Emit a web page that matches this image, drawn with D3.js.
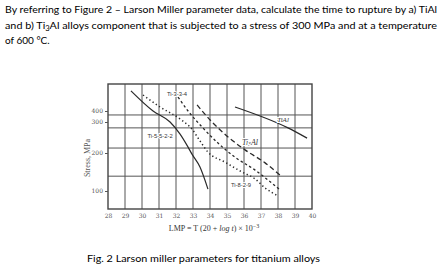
<!DOCTYPE html>
<html><head><meta charset="utf-8">
<script src="https://cdn.jsdelivr.net/npm/d3@7"></script>
<style>
html,body{margin:0;padding:0;background:#fff;}
svg{display:block;}
</style></head>
<body>
<svg id="c" width="445" height="274"></svg>
<script>
// ---------- data ----------
const lmpTicks = [28,29,30,31,32,33,34,35,36,37,38,39,40];
const lmpGrid = [29,30,31,32,33,34,35,36,37,38,39];
const stressTicks = [100,200,300,400];
const stressGrid = [364,281,216,139];
// non-uniform stress axis as printed in the figure
const stressAxisDomain = [55,100,200,300,400,650];

const ti5522Lmp    = [29.35,30.65,31.65,32.24,32.71,32.94,33.41,33.88];
const ti5522Stress = [580,400,300,261,219,197,163,105];

const ti829Lmp     = [30.06,31.06,32.24,32.94,33.41,33.88,34.88,35.88,36.65,37.24,38.0];
const ti829Stress  = [543,436,327,277,239,203,176,150,132,108,87];

const ti334Lmp     = [32.12,32.71,33.53,34.47,35.47,36.65,37.41,38.12];
const ti334Stress  = [525,400,284,232,189,155,129,103];

const ti3alLmp     = [33.24,34.12,35.06,36.06,37.24,38.24];
const ti3alStress  = [454,300,252,210,174,137];

const tialLmp      = [35.47,38.59,39.71];
const tialStress   = [436,281,248];

const headerLines = [
  "By referring to Figure 2 \u2013 Larson Miller parameter data, calculate the time to rupture by a) TiAl",
  "Al alloys component that is subjected to a stress of 300 MPa and at a temperature",
  "of 600 \u00B0C."
];
const captionText = "Fig. 2 Larson miller parameters for titanium alloys";

// ---------- drawing ----------
const svg = d3.select("#c");
const ink = "#2a2a2a";

const x = d3.scaleLinear().domain([28,40]).range([108,312]);
const y = d3.scaleLinear().domain(stressAxisDomain).range([208,191,153,122,111,83]);

// header text
const hfont = "Lato, 'Open Sans', sans-serif";
svg.append("text").attr("x",5).attr("y",12.5).attr("font-family",hfont).attr("font-size",10)
  .attr("fill","#000").attr("textLength",432).attr("lengthAdjust","spacingAndGlyphs").text(headerLines[0]);
const l2 = svg.append("text").attr("x",5).attr("y",28.5).attr("font-family",hfont).attr("font-size",10)
  .attr("fill","#000").attr("textLength",432).attr("lengthAdjust","spacingAndGlyphs");
l2.append("tspan").text("and b) Ti");
l2.append("tspan").attr("font-size",7).attr("dy",2).text("3");
l2.append("tspan").attr("dy",-2).text(headerLines[1]);
svg.append("text").attr("x",5).attr("y",44).attr("font-family",hfont).attr("font-size",10)
  .attr("fill","#000").text(headerLines[2]);

// caption
svg.append("text").attr("x",87).attr("y",262).attr("font-family",hfont).attr("font-size",10)
  .attr("fill","#000").attr("textLength",233).attr("lengthAdjust","spacingAndGlyphs").text(captionText);

const g = svg.append("g");
const [x0,x1] = x.range();
const yTop = 84, yBot = 209;

// grid
g.selectAll(".vg").data(lmpGrid).join("line")
  .attr("x1",d=>x(d)).attr("x2",d=>x(d)).attr("y1",yTop).attr("y2",yBot)
  .attr("stroke","#555").attr("stroke-width",1);
g.selectAll(".hg").data(stressGrid).join("line")
  .attr("x1",x0).attr("x2",x1).attr("y1",d=>y(d)).attr("y2",d=>y(d))
  .attr("stroke","#555").attr("stroke-width",1);

// frame
g.append("rect").attr("x",x0).attr("y",yTop).attr("width",x1-x0).attr("height",yBot-yTop)
  .attr("fill","none").attr("stroke","#444").attr("stroke-width",1.4);

// axes
const xAxis = d3.axisBottom(x).tickValues(lmpTicks).tickSize(0).tickPadding(5).tickFormat(d3.format("d"));
const ax = g.append("g").attr("transform",`translate(0,${yBot})`).call(xAxis);
ax.select(".domain").remove();
ax.selectAll("text").attr("font-family","'DejaVu Serif', serif").attr("font-size",6).attr("fill","#555");

const yAxis = d3.axisLeft(y).tickValues(stressTicks).tickSize(3).tickPadding(2).tickFormat(d3.format("d"));
const ay = g.append("g").attr("transform",`translate(${x0},0)`).call(yAxis);
ay.select(".domain").remove();
ay.selectAll("line").attr("stroke","#555");
ay.selectAll("text").attr("font-family","'DejaVu Serif', serif").attr("font-size",6).attr("fill","#555");

// axis titles
svg.append("text").attr("transform","translate(90,158) rotate(-90)").attr("text-anchor","middle")
  .attr("font-family","'Liberation Serif', serif").attr("font-size",8).attr("fill","#555").text("Stress, MPa");
const xt = svg.append("text").attr("x",214).attr("y",231).attr("text-anchor","middle")
  .attr("font-family","'Liberation Serif', serif").attr("font-size",8).attr("fill","#333");
xt.append("tspan").text("LMP = T (20 + ");
xt.append("tspan").attr("font-style","italic").text("log t");
xt.append("tspan").text(") \u00D7 10");
xt.append("tspan").attr("font-size",6).attr("dy",-3).text("\u22123");

// series
const line = d3.line().x(d=>x(d[0])).y(d=>y(d[1])).curve(d3.curveMonotoneX);
function series(lmp, st, dash, w){
  g.append("path").datum(d3.zip(lmp,st)).attr("d",line)
    .attr("fill","none").attr("stroke",ink).attr("stroke-width",w)
    .attr("stroke-dasharray",dash);
}
series(ti5522Lmp, ti5522Stress, null, 1.2);
series(ti829Lmp, ti829Stress, "1.3,2.6", 1.5);
series(ti334Lmp, ti334Stress, "2.5,2.5", 1.3);
series(ti3alLmp, ti3alStress, "5,3", 1.3);
series(tialLmp, tialStress, null, 1.2);

// series labels
function lab(cx, cy, opts={}){
  return svg.append("text").attr("x",cx).attr("y",cy).attr("text-anchor","middle")
    .attr("dominant-baseline","central")
    .attr("font-family",opts.family||"'Liberation Sans', sans-serif")
    .attr("font-size",opts.size||5.8).attr("fill","#333")
    .attr("font-style",opts.italic?"italic":null)
    .attr("stroke","#fff").attr("stroke-width",2)
    .attr("paint-order","stroke");
}
lab(177,93.5).text("Ti-3-3-4");
lab(160,136).text("Ti-5-5-2-2");
lab(241,185).text("Ti-8-2-9");
const t3 = lab(250,142,{family:"'Liberation Serif', serif",size:8,italic:true});
t3.append("tspan").text("Ti");
t3.append("tspan").attr("font-size",5.5).attr("dy",1.5).text("3");
t3.append("tspan").attr("dy",-1.5).text("Al");
lab(283,120,{family:"'Liberation Serif', serif",size:7,italic:true}).text("TiAl");
</script>
</body></html>
